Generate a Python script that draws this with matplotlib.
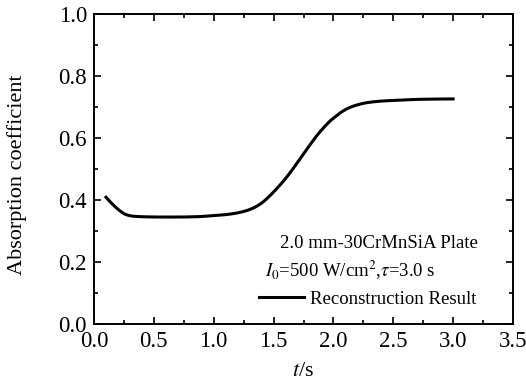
import numpy as np
import matplotlib
matplotlib.use("Agg")
import matplotlib.pyplot as plt
from matplotlib.ticker import MultipleLocator

plt.rcParams["font.family"] = ["Liberation Serif", "DejaVu Serif"]
plt.rcParams["mathtext.fontset"] = "stix"

# values
t = [0.10, 0.14, 0.18, 0.22, 0.26, 0.32, 0.40, 0.55, 0.70, 0.85, 0.98, 1.08,
     1.18, 1.26, 1.33, 1.40, 1.47, 1.53, 1.58, 1.64, 1.69, 1.75, 1.81, 1.86,
     1.92, 1.97, 2.03, 2.08, 2.14, 2.21, 2.28, 2.40, 2.55, 2.75, 3.00]
alpha = [0.409, 0.392, 0.377, 0.364, 0.354, 0.348, 0.346, 0.345, 0.345, 0.346,
         0.349, 0.352, 0.357, 0.364, 0.374, 0.390, 0.414, 0.438, 0.460, 0.489,
         0.516, 0.549, 0.581, 0.607, 0.634, 0.654, 0.673, 0.687, 0.699, 0.708,
         0.714, 0.719, 0.722, 0.725, 0.726]

x_ticks = [0.0, 0.5, 1.0, 1.5, 2.0, 2.5, 3.0, 3.5]
y_ticks = [0.0, 0.2, 0.4, 0.6, 0.8, 1.0]


def pchip(x, y, xn):
    # monotone piecewise cubic through the read points
    h = np.diff(x)
    d = np.diff(y) / h
    m = np.zeros_like(y)
    for k in range(1, len(y) - 1):
        if d[k - 1] * d[k] > 0:
            w1 = 2 * h[k] + h[k - 1]
            w2 = h[k] + 2 * h[k - 1]
            m[k] = (w1 + w2) / (w1 / d[k - 1] + w2 / d[k])
    m[0] = d[0]
    m[-1] = d[-1]
    idx = np.clip(np.searchsorted(x, xn) - 1, 0, len(x) - 2)
    hh = h[idx]
    s = (xn - x[idx]) / hh
    h00 = 2 * s**3 - 3 * s**2 + 1
    h10 = s**3 - 2 * s**2 + s
    h01 = -2 * s**3 + 3 * s**2
    h11 = s**3 - s**2
    return h00 * y[idx] + h10 * hh * m[idx] + h01 * y[idx + 1] + h11 * hh * m[idx + 1]


fig = plt.figure(figsize=(5.26, 3.8), dpi=100)
ax = fig.add_axes([0.1787, 0.1474, 0.7966, 0.8158])

xs = np.array(t)
ys = np.array(alpha)
ts = np.linspace(xs[0], xs[-1], 400)
ax.plot(ts, pchip(xs, ys, ts), color="black", linewidth=2.2,
        label="Reconstruction Result")

ax.set_xlim(0, 3.5)
ax.set_ylim(0, 1.0)
ax.set_xticks(x_ticks)
ax.set_yticks(y_ticks)
ax.set_xticklabels([f"{v:.1f}" for v in x_ticks])
ax.set_yticklabels([f"{v:.1f}" for v in y_ticks])
ax.xaxis.set_minor_locator(MultipleLocator(0.25))
ax.yaxis.set_minor_locator(MultipleLocator(0.1))
ax.tick_params(which="both", direction="in", top=True, right=True,
               labelsize=16.5, width=1.2)
ax.tick_params(which="major", length=5, pad=5)
ax.tick_params(which="minor", length=3)
for sp in ax.spines.values():
    sp.set_linewidth(1.4)

ax.set_xlabel(r"$t$/s", fontsize=16)
ax.xaxis.set_label_coords(0.5, -0.122)
ax.set_ylabel("Absorption coefficient", fontsize=16)
ax.yaxis.set_label_coords(-0.16, 0.48)

ax.text(0.445, 0.261, "2.0 mm-30CrMnSiA Plate", transform=ax.transAxes,
        fontsize=13.5, va="center", ha="left")
ax.text(0.408, 0.174, r"$I_0$=500 W/cm$^2$,$\tau$=3.0 s", transform=ax.transAxes,
        fontsize=13.5, va="center", ha="left")
ax.legend(loc="lower left", bbox_to_anchor=(0.362, 0.01), frameon=False,
          fontsize=13.5, handlelength=2.4, handletextpad=0.35, borderpad=0.2)

fig.savefig("out.png", dpi=100)
